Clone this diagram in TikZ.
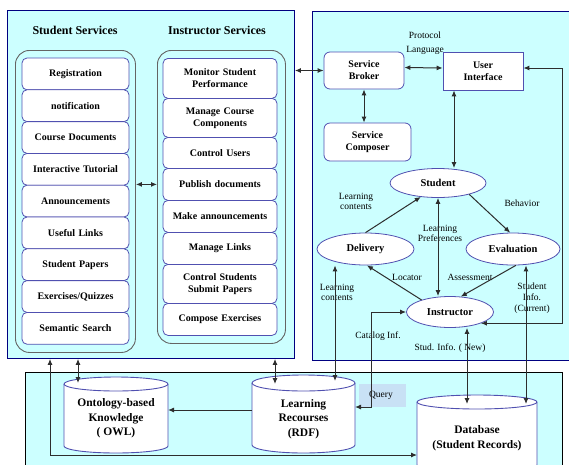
\documentclass[tikz,border=0pt]{standalone}
\usepackage{fontspec}
\setmainfont{Liberation Serif}
\usetikzlibrary{arrows.meta,shapes.geometric}
\definecolor{panelfill}{RGB}{204,255,255}
\definecolor{navyb}{RGB}{0,0,128}
\definecolor{boxb}{RGB}{80,80,176}
\definecolor{conn}{RGB}{45,45,45}
\definecolor{qfill}{RGB}{200,225,245}
\definecolor{contb}{RGB}{100,100,100}
\begin{document}
\begin{tikzpicture}[x=1pt,y=-1pt,
 panel/.style={draw=navyb,fill=panelfill,line width=0.9pt,anchor=north west,inner sep=0pt},
 cont/.style={draw=contb,line width=0.9pt,rounded corners=14pt,anchor=north west,inner sep=0pt},
 sbox/.style={draw=boxb,fill=white,line width=0.8pt,rounded corners=5pt,minimum width=107pt,minimum height=31.8pt,inner sep=1pt,text width=103pt,align=center,font=\fontsize{10}{12}\selectfont\bfseries},
 ibox/.style={sbox,minimum width=114pt,text width=110pt,anchor=north},
 sv/.style={draw=boxb,fill=white,line width=0.8pt,inner sep=1pt,align=center,font=\fontsize{10}{12}\selectfont\bfseries},
 ell/.style={ellipse,draw=boxb,fill=white,line width=0.8pt,inner sep=0pt,font=\fontsize{10.5}{12}\selectfont\bfseries},
 lbl/.style={font=\fontsize{9.5}{10}\selectfont,align=center,inner sep=0pt},
 ar/.style={draw=conn,line width=1pt,-{Latex[length=6pt,width=5pt]}},
 biar/.style={draw=conn,line width=1pt,{Latex[length=6pt,width=5pt]}-{Latex[length=6pt,width=5pt]}},
 cyl/.style={draw=boxb,fill=white,line width=0.9pt},
 cyltext/.style={font=\fontsize{11.5}{14.5}\selectfont\bfseries,align=center,inner sep=0pt},
 ttl/.style={font=\fontsize{12}{13}\selectfont\bfseries,inner sep=0pt}
]
\useasboundingbox (0,0) rectangle (569,464);
\fill[white] (0,0) rectangle (569,464);

% panels
\node[panel,minimum width=287pt,minimum height=348pt] (lp) at (7,10) {};
\node[panel,minimum width=263pt,minimum height=349pt] (rp) at (312,11) {};
\node[panel,draw=black,minimum width=537pt,minimum height=103pt] (bp) at (25,372) {};

% titles
\node[ttl] (t1) at (75,30) {Student Services};
\node[ttl] (t2) at (217,30) {Instructor Services};

% containers
\node[cont,minimum width=120pt,minimum height=302pt] (lc) at (15,50) {};
\node[cont,minimum width=128pt,minimum height=293pt] (ic) at (157,50) {};

% student services boxes
\node[sbox] (sb1) at (75.5,73.9) {Registration};
\node[sbox] (sb2) at (75.5,105.7) {notification};
\node[sbox] (sb3) at (75.5,137.5) {Course Documents};
\node[sbox] (sb4) at (75.5,169.3) {Interactive Tutorial};
\node[sbox] (sb5) at (75.5,201.1) {Announcements};
\node[sbox] (sb6) at (75.5,232.9) {Useful Links};
\node[sbox] (sb7) at (75.5,264.7) {Student Papers};
\node[sbox] (sb8) at (75.5,296.5) {Exercises/Quizzes};
\node[sbox] (sb9) at (75.5,328.3) {Semantic Search};

% instructor services boxes
\node[ibox,minimum height=40pt] (ib1) at (220,58) {Monitor Student\\Performance};
\node[ibox,minimum height=39pt] (ib2) at (220,98) {Manage Course\\Components};
\node[ibox,minimum height=31pt] (ib3) at (220,137) {Control Users};
\node[ibox,minimum height=32pt] (ib4) at (220,168) {Publish documents};
\node[ibox,minimum height=32pt] (ib5) at (220,200) {Make announcements};
\node[ibox,minimum height=32pt] (ib6) at (220,232) {Manage Links};
\node[ibox,minimum height=39pt] (ib7) at (220,264) {Control Students\\Submit Papers};
\node[ibox,minimum height=32pt] (ib8) at (220,303) {Compose Exercises};

\draw[biar] (lc.east |- ib4.west) -- (ic.west |- ib4.west);

% right panel nodes
\node[sv,rounded corners=6pt,minimum width=80pt,minimum height=37pt] (sb) at (364,70.5) {Service\\Broker};
\node[sv,minimum width=80pt,minimum height=38pt] (ui) at (483,71) {User\\Interface};
\node[sv,rounded corners=6pt,minimum width=87pt,minimum height=38pt] (sc) at (367.5,142) {Service\\Composer};

\node[ell,minimum width=96pt,minimum height=29pt] (st) at (438,183) {Student};
\node[ell,minimum width=97pt,minimum height=32pt] (del) at (365.5,249) {Delivery};
\node[ell,minimum width=94pt,minimum height=32pt] (ev) at (513,249) {Evaluation};
\node[ell,minimum width=87pt,minimum height=31pt] (ins) at (450,312) {Instructor};

% labels
\node[lbl,font=\fontsize{9.5}{14}\selectfont] (lpl) at (425,43) {Protocol\\Language};
\node[lbl] (l1) at (356,201) {Learning\\contents};
\node[lbl] (l2) at (522,203) {Behavior};
\node[lbl] (l3) at (440,233) {Learning\\Preferences};
\node[lbl] (l4) at (407,277) {Locator};
\node[lbl] (l5) at (470,277) {Assessment};
\node[lbl] (l6) at (337,292) {Learning\\contents};
\node[lbl,font=\fontsize{9.5}{11}\selectfont] (l7) at (532,298) {Student\\Info.\\(Current)};
\node[lbl] (l8) at (378,336) {Catalog Inf.};
\node[lbl] (l9) at (450,348) {Stud. Info. ( New)};

% right panel connectors
\draw[biar] (lp.east |- sb.west) -- (sb.west);
\draw[biar] ([yshift=3pt]sb.east) -- ([yshift=3pt]ui.west);
\draw[biar] (sb.south) -- (sb.south |- sc.north);
\draw[biar] ([xshift=-29pt]ui.south) -- ([xshift=16pt]st.north);
\draw[biar] (st.south) -- (st.south |- ins.north);
\draw[ar] (del.north) -- (st.219);
\draw[ar] (st.-20) -- (ev.100);
\draw[ar] (ins.157) -- (del.-85);
\draw[ar] (ev.-80) -- (ins.55);
\draw[biar] ([yshift=3pt]ui.east) -- ++(39,0) |- (ins.-20);

% cylinders
\filldraw[cyl] (64,384) -- (64,446) arc[start angle=180,end angle=0,x radius=52,y radius=7] -- (168,384) arc[start angle=0,end angle=-180,x radius=52,y radius=7] -- cycle;
\draw[cyl,fill=none] (64,384) arc[start angle=180,end angle=0,x radius=52,y radius=7];
\node[cyltext] (onto) at (116,418.5) {Ontology-based\\Knowledge\\( OWL)};

\filldraw[cyl] (252,383) -- (252,445) arc[start angle=180,end angle=0,x radius=51.5,y radius=8] -- (355,383) arc[start angle=0,end angle=-180,x radius=51.5,y radius=8] -- cycle;
\draw[cyl,fill=none] (252,383) arc[start angle=180,end angle=0,x radius=51.5,y radius=8];
\node[cyltext] (lr) at (303.5,419) {Learning\\Recourses\\(RDF)};

\filldraw[cyl] (417,402) -- (417,465) arc[start angle=180,end angle=0,x radius=60,y radius=7] -- (537,402) arc[start angle=0,end angle=-180,x radius=60,y radius=7] -- cycle;
\draw[cyl,fill=none] (417,402) arc[start angle=180,end angle=0,x radius=60,y radius=7];
\node[cyltext] (db) at (477,438) {Database\\(Student Records)};

% query box
\fill[qfill] (359,384) rectangle (406,407);
\node[lbl] (q) at (381,395) {Query};

% connector end points
\coordinate (ontoTop) at (78,383);
\coordinate (lrTopA) at (275,384);
\coordinate (lrTopB) at (335,381);
\coordinate (lrLeft) at (252,410);
\coordinate (ontoRight) at (168,410);
\coordinate (lrRight) at (355,407);
\coordinate (qcorner) at (371,407);
\coordinate (dbTopA) at (467,404);
\coordinate (dbTopB) at (526,404);
\coordinate (dbLeft) at (417,455);
\coordinate (lcorner) at (50,455);

% bottom connectors
\draw[biar] (lp.south -| ontoTop) -- (ontoTop);
\draw[biar] (lp.south -| lrTopA) -- (lrTopA);
\draw[biar] (lp.south -| lcorner) -- (lcorner) -- (dbLeft);
\draw[ar] (lrLeft) -- (ontoRight);
\draw[biar] (del.south -| lrTopB) -- (lrTopB);
\draw[biar] (lrRight) -- (qcorner) |- (ins.west);
\draw[biar] (ins.south -| dbTopA) -- (dbTopA);
\draw[biar] (ev.south -| dbTopB) -- (dbTopB);
\end{tikzpicture}
\end{document}
